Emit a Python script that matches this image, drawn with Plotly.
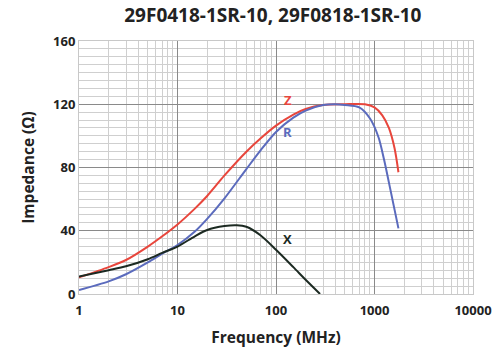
import math
import plotly.graph_objects as go

# Impedance curves (frequency in MHz, ohms)
z_freq = [1, 2, 3, 5, 7, 10, 15, 20, 30, 50, 70, 100, 150, 200, 300, 500, 800, 1000, 1200, 1400, 1600, 1750]
z_vals = [10.5, 17, 21.5, 30, 36.5, 44, 54, 62, 75, 90, 98.5, 106.5, 113.5, 117, 119.5, 120, 120, 118, 113, 105, 92, 77]

r_freq = [1, 2, 3, 5, 7, 10, 15, 20, 30, 50, 70, 100, 150, 200, 300, 400, 500, 700, 900, 1100, 1250, 1450, 1750]
r_vals = [2.5, 8, 12.5, 20, 25.5, 31, 39.5, 47.5, 60.5, 79, 91, 102.5, 111.5, 116, 119.5, 120, 119.5, 118, 111, 99, 85, 66, 41.5]

x_freq = [1, 2, 3, 5, 7, 10, 15, 20, 30, 40, 50, 70, 100, 150, 200, 280]
x_vals = [11, 15, 17.5, 22, 26, 30, 36.5, 40.5, 43, 43.5, 42.5, 37, 28, 17, 9, 0]

x_ticks = [1, 10, 100, 1000, 10000]
y_ticks = [0, 40, 80, 120, 160]

RED = "#e8463c"
BLUE = "#5b6bbd"
BLACK = "#1c2a22"
FONT = "Open Sans"

fig = go.Figure()
for fx, fy, col in [(z_freq, z_vals, RED), (r_freq, r_vals, BLUE), (x_freq, x_vals, BLACK)]:
    fig.add_trace(go.Scatter(x=fx, y=fy, mode="lines", hoverinfo="skip",
                             line=dict(color=col, width=2, shape="spline", smoothing=0.8)))

# curve labels
for txt, fx, fy, col in [("Z", 131, 123, RED), ("R", 131, 102.5, BLUE), ("X", 131, 35, BLACK)]:
    fig.add_annotation(x=math.log10(fx), y=fy, text=f"<b>{txt}</b>", showarrow=False,
                       font=dict(family=FONT, size=13, color=col))

fig.update_xaxes(
    type="log", range=[0, 4], tickvals=x_ticks, ticktext=[f"<b>{v}</b>" for v in x_ticks],
    showgrid=True, gridcolor="#8a8a8a", gridwidth=1,
    minor=dict(showgrid=True, dtick="D1", gridcolor="#cfcfcf", gridwidth=1),
    showline=True, linecolor="#c8c8c8", mirror=True, ticks="", zeroline=False, automargin=False,
    ticklabelstandoff=4,
    tickfont=dict(family=FONT, size=13, color="#222"),
    title=dict(text="<b>Frequency (MHz)</b>", font=dict(family=FONT, size=15.5, color="#222"), standoff=14),
)
fig.update_yaxes(
    range=[0, 160], tickvals=y_ticks, ticktext=[f"<b>{v}</b>" for v in y_ticks],
    showgrid=True, gridcolor="#8a8a8a", gridwidth=1,
    minor=dict(showgrid=True, dtick=5, gridcolor="#cfcfcf", gridwidth=1),
    showline=True, linecolor="#c8c8c8", mirror=True, ticks="", zeroline=False, automargin=False,
    tickfont=dict(family=FONT, size=13, color="#222"),
    title=dict(text="<b>Impedance (Ω)</b>", font=dict(family=FONT, size=15.5, color="#222"), standoff=14),
)

fig.update_layout(
    width=497, height=356,
    margin=dict(l=79, r=24, t=41, b=62),
    paper_bgcolor="white", plot_bgcolor="white",
    showlegend=False,
    title=dict(text="<b>29F0418-1SR-10, 29F0818-1SR-10</b>", x=0.549, xanchor="center",
               y=1 - 15 / 356, yanchor="middle",
               font=dict(family=FONT, size=19, color="#222")),
)

# drop the default page margin so the figure sits at the window's corner
fig.write_html("out.html", config={"displayModeBar": False},
               post_script="document.body.style.margin='0';")
